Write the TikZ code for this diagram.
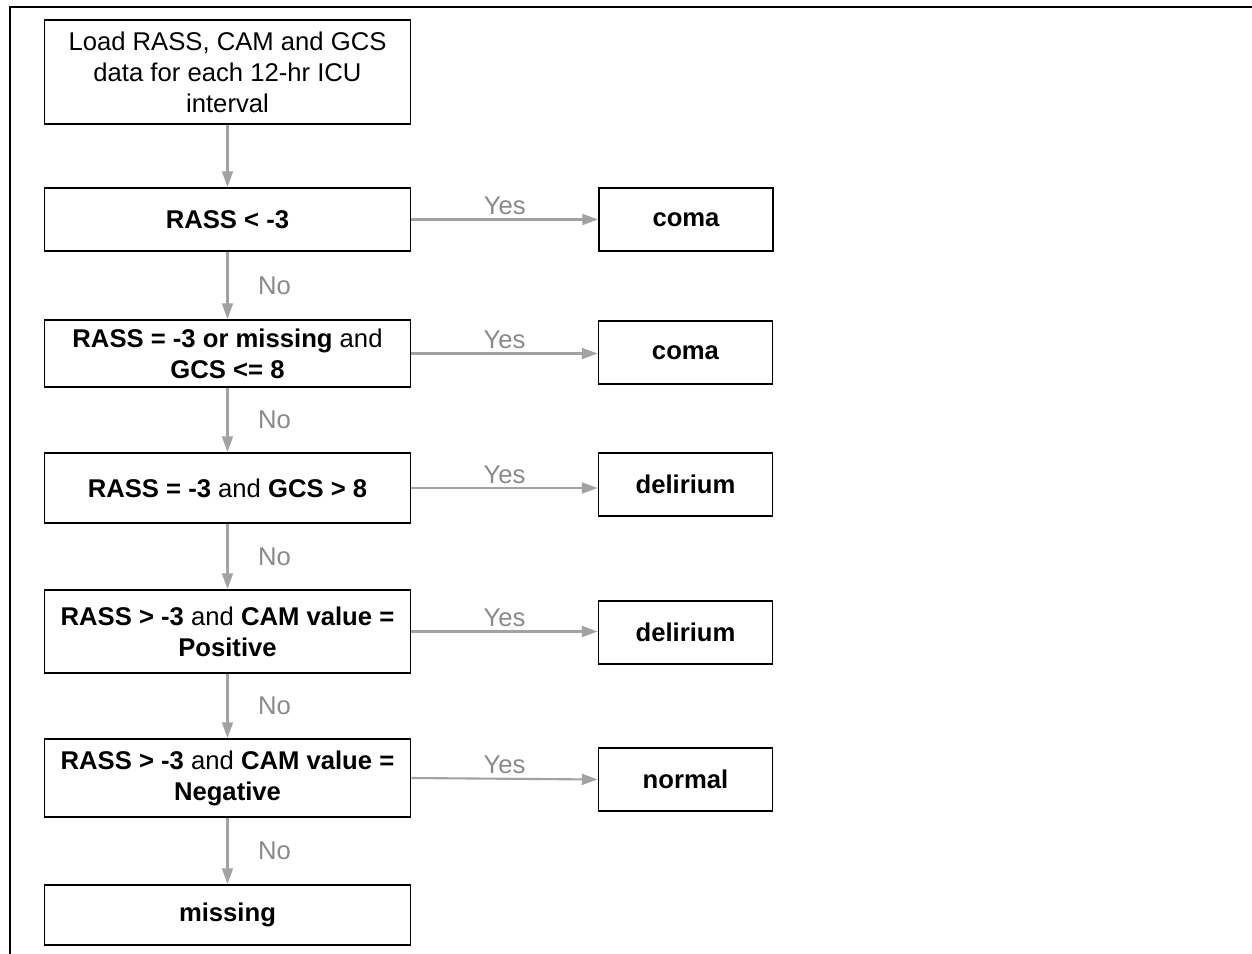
\documentclass[tikz,border=0pt]{standalone}
\usepackage{fontspec}
\setmainfont{Liberation Sans}
\usepackage{tikz}
\usetikzlibrary{arrows.meta}
\definecolor{flowgray}{RGB}{162,162,162}
\definecolor{labelgray}{RGB}{138,138,138}
\tikzset{proc box/.style={draw, line width=1.05pt, align=center, inner sep=0,
  minimum width=7.32cm, font=\fontsize{14.6}{17.6}\selectfont}}
\tikzset{result box/.style={draw, line width=1.05pt, inner sep=0,
  minimum width=3.48cm, minimum height=1.26cm, font=\fontsize{14.6}{17.6}\selectfont\bfseries}}
\tikzset{flow/.style={draw=flowgray, line width=1.2pt, -{Triangle[length=9pt,width=6.2pt]}}}
\tikzset{flow label/.style={text=labelgray, inner sep=1pt, font=\fontsize{14.6}{17.6}\selectfont}}

\begin{document}
\begin{tikzpicture}[x=0.02cm, y=-0.02cm]
  \useasboundingbox (0,0) rectangle (1252,954);
  % frame
  \draw[line width=1.4pt] (10,954) -- (10,7) -- (1252,7);

  \node[proc box, minimum height=2.08cm] at (227.5, 72) (load) {Load RASS, CAM and GCS\\data for each 12-hr ICU\\interval};
  \node[proc box, minimum height=1.26cm, font=\fontsize{14.6}{17.6}\selectfont\bfseries] at (227.5, 219.5) (c1) {RASS < -3};
  \node[proc box, minimum height=1.34cm] at (227.5, 353.5) (c2) {\textbf{RASS = -3 or missing} and\\\textbf{GCS <= 8}};
  \node[proc box, minimum height=1.4cm] at (227.5, 488) (c3) {\textbf{RASS = -3} and \textbf{GCS > 8}};
  \node[proc box, minimum height=1.66cm] at (227.5, 631.5) (c4) {\textbf{RASS > -3} and \textbf{CAM value =}\\\textbf{Positive}};
  \node[proc box, minimum height=1.56cm] at (227.5, 778) (c5) {\textbf{RASS > -3} and \textbf{CAM value =}\\\textbf{Negative}};
  \node[proc box, minimum height=1.2cm, font=\fontsize{14.6}{17.6}\selectfont\bfseries] at (227.5, 915) (miss) {missing};

  \node[result box] at (686, 219.5) (r1) {coma};
  \node[result box] at (685.5, 352.5) (r2) {coma};
  \node[result box] at (685.5, 484.5) (r3) {delirium};
  \node[result box] at (685.5, 632.5) (r4) {delirium};
  \node[result box] at (685.5, 779.5) (r5) {normal};

  \draw[flow] (load) -- (c1);
  \draw[flow] (c1) -- node[flow label, xshift=0.94cm] {No} (c2);
  \draw[flow] (c2) -- node[flow label, xshift=0.94cm] {No} (c3);
  \draw[flow] (c3) -- node[flow label, xshift=0.94cm] {No} (c4);
  \draw[flow] (c4) -- node[flow label, xshift=0.94cm] {No} (c5);
  \draw[flow] (c5) -- node[flow label, xshift=0.94cm] {No} (miss);

  \draw[flow] (c1.east) -- node[flow label, above, yshift=1pt] {Yes} (c1.east -| r1.west);
  \draw[flow] (c2.east) -- node[flow label, above, yshift=1pt] {Yes} (c2.east -| r2.west);
  \draw[flow] (c3.east) -- node[flow label, above, yshift=1pt] {Yes} (c3.east -| r3.west);
  \draw[flow] (c4.east) -- node[flow label, above, yshift=1pt] {Yes} (c4.east -| r4.west);
  \draw[flow] (c5.east) -- node[flow label, above, yshift=1pt] {Yes} (r5.west);
\end{tikzpicture}
\end{document}
